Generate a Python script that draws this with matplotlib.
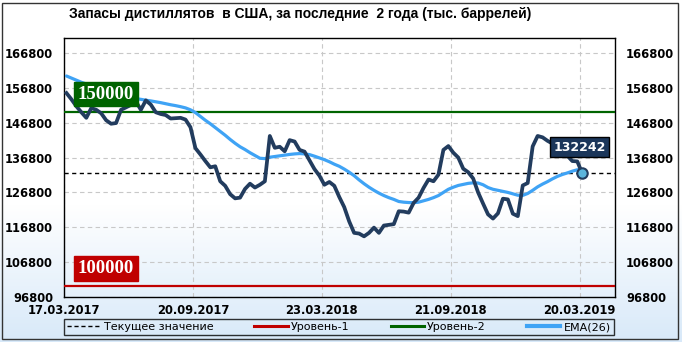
import numpy as np
import matplotlib
matplotlib.use('Agg')
import matplotlib.pyplot as plt
from matplotlib.lines import Line2D
from matplotlib.patches import Rectangle
from matplotlib.colors import LinearSegmentedColormap

# weekly distillate stocks, thousand barrels (17.03.2017 .. 20.03.2019)
stocks = [155300, 153500, 151500, 149800, 148200, 151000, 150500, 149500, 147500, 146500,
          146700, 150500, 151200, 151900, 152900, 150500, 153200, 152000, 149800, 149300,
          149000, 148000, 148100, 148200, 147700, 145500, 139500, 137700, 135800, 134000,
          134300, 130000, 128700, 126300, 125100, 125300, 127800, 129300, 128200, 129000,
          130000, 143000, 139600, 139900, 138600, 141800, 141400, 139000, 138500, 136000,
          133500, 131600, 129000, 129800, 128700, 125500, 122600, 118500, 115200, 115000,
          114200, 115200, 116700, 115200, 117300, 117500, 117700, 121400, 121300, 121000,
          123800, 125300, 128100, 130500, 130000, 131900, 139000, 140100, 138200, 136800,
          133600, 132600, 130800, 126800, 123600, 120500, 119300, 120800, 125000, 124800,
          120700, 120000, 128800, 129500, 140000, 143000, 142600, 141600, 140800, 139600,
          138400, 137300, 135800, 135700, 132242]

# EMA(26)
ema = [160200, 159600, 159000, 158400, 157900, 157400, 156700, 156100, 155600, 155200,
       154900, 154600, 154300, 154000, 153700, 153500, 153250, 153050, 152800, 152550,
       152250, 151950, 151700, 151400, 151050, 150500, 149700, 148600, 147500, 146500,
       145400, 144300, 143200, 142000, 140900, 139900, 139100, 138200, 137400, 136600,
       136500, 136900, 137100, 137300, 137500, 137700, 137850, 137950, 137850, 137650,
       137200, 136700, 136200, 135600, 134900, 134300, 133500, 132600, 131600, 130400,
       129300, 128300, 127400, 126600, 125900, 125300, 124800, 124200, 124000, 123900,
       123850, 124000, 124400, 124800, 125300, 125900, 126800, 127700, 128300, 128800,
       129100, 129400, 129550, 129500, 129000, 128200, 127700, 127400, 127100, 126800,
       126400, 126000, 125950, 126500, 127400, 128400, 129200, 129900, 130700, 131400,
       131950, 132400, 132900, 133300, 133200]

date_labels = ['17.03.2017', '20.09.2017', '23.03.2018', '21.09.2018', '20.03.2019']
date_index = [-0.5, 25.5, 51.5, 77.5, 103.5]
ytick_vals = [96800, 106800, 116800, 126800, 136800, 146800, 156800, 166800]
level1 = 100000
level2 = 150000
current = stocks[-1]

navy = '#223C5E'
ema_col = '#3FA3F5'
red = '#C00000'
green = '#006400'

fig = plt.figure(figsize=(6.82, 3.42), dpi=100)

# background gradient
bg = fig.add_axes([0, 0, 1, 1], zorder=-10)
grad = np.linspace(0, 1, 256).reshape(-1, 1)
cmap = LinearSegmentedColormap.from_list('bg', [(0, '#D8E9F9'), (0.4, '#FFFFFF'), (1, '#FFFFFF')])
bg.imshow(grad, aspect='auto', cmap=cmap, origin='lower', extent=[0, 1, 0, 1])
bg.axis('off')
fig.patches.append(Rectangle((2/682, 3/342), 676/682, 336/342, transform=fig.transFigure,
                             fill=False, edgecolor='#333333', lw=1))

ax = fig.add_axes([64/682, 1 - 297/342, 551/682, 259/342])
ax.set_facecolor('none')

x = np.arange(len(stocks))
ax.axhline(level1, color=red, lw=1.6, zorder=3)
ax.axhline(level2, color=green, lw=1.6, zorder=3)
ax.axhline(current, color='black', lw=1, ls=(0, (3, 2.5)), zorder=3)
ax.plot(x, ema, color=ema_col, lw=2.3, zorder=4, solid_capstyle='round')
ax.plot(x, stocks, color=navy, lw=2.7, zorder=5, solid_joinstyle='round')
ax.plot(x[-1], current, 'o', ms=7.5, mfc='#5BB5DC', mec=navy, mew=1.5, zorder=6)

ax.set_xlim(-0.5, 110.6)
ax.set_ylim(96800, 171100)
ax.set_yticks(ytick_vals)
ax.set_yticklabels([str(v) for v in ytick_vals])
ax.set_xticks(date_index)
ax.set_xticklabels(date_labels)
ax.tick_params(axis='both', length=0, labelsize=8.3)
ax.tick_params(axis='y', pad=8, labelleft=True, labelright=True)
ax.tick_params(axis='x', pad=5)
for lab in ax.get_xticklabels() + ax.get_yticklabels():
    lab.set_fontweight('bold')
ax.grid(True, color='#C8C8C8', lw=0.8, ls=(0, (4, 3)))
for s in ax.spines.values():
    s.set_color('black')
    s.set_linewidth(1)

# level labels
for val, col in [(level2, green), (level1, red)]:
    ax.annotate(str(val), xy=(0, val), xycoords=('axes fraction', 'data'),
                xytext=(30, 12.6), textcoords='offset points', ha='center', va='center',
                fontsize=13.5, fontweight='bold', family='Liberation Serif', color='white',
                bbox=dict(boxstyle='square,pad=0.2', fc=col, ec=col), zorder=7)

ax.annotate(str(current), xy=(x[-1], current), xytext=(-2, 19), textcoords='offset points',
            ha='center', va='center', fontsize=9, fontweight='bold', color='white',
            bbox=dict(boxstyle='square,pad=0.3', fc='#1B365A', ec='black', lw=1), zorder=8)

fig.text(69/682, 1 - 14/342, 'Запасы дистиллятов  в США, за последние  2 года (тыс. баррелей)',
         fontsize=10, fontweight='bold', family='Liberation Sans', ha='left', va='center')

handles = [Line2D([], [], color='black', lw=1, ls=(0, (3, 2))),
           Line2D([], [], color=red, lw=2.2),
           Line2D([], [], color=green, lw=2.2),
           Line2D([], [], color=ema_col, lw=3)]
labels = ['Текущее значение', 'Уровень-1', 'Уровень-2', 'EMA(26)']
leg = fig.legend(handles, labels, ncol=4, loc='center',
                 bbox_to_anchor=(64/682, 1 - 337/342, 550/682, 20/342), mode='expand',
                 fontsize=8, frameon=True, fancybox=False, edgecolor='black',
                 facecolor='none', handlelength=3, handletextpad=0.3,
                 borderpad=0.3, borderaxespad=0)
leg.get_frame().set_linewidth(1)

fig.savefig('out.png', dpi=100)
